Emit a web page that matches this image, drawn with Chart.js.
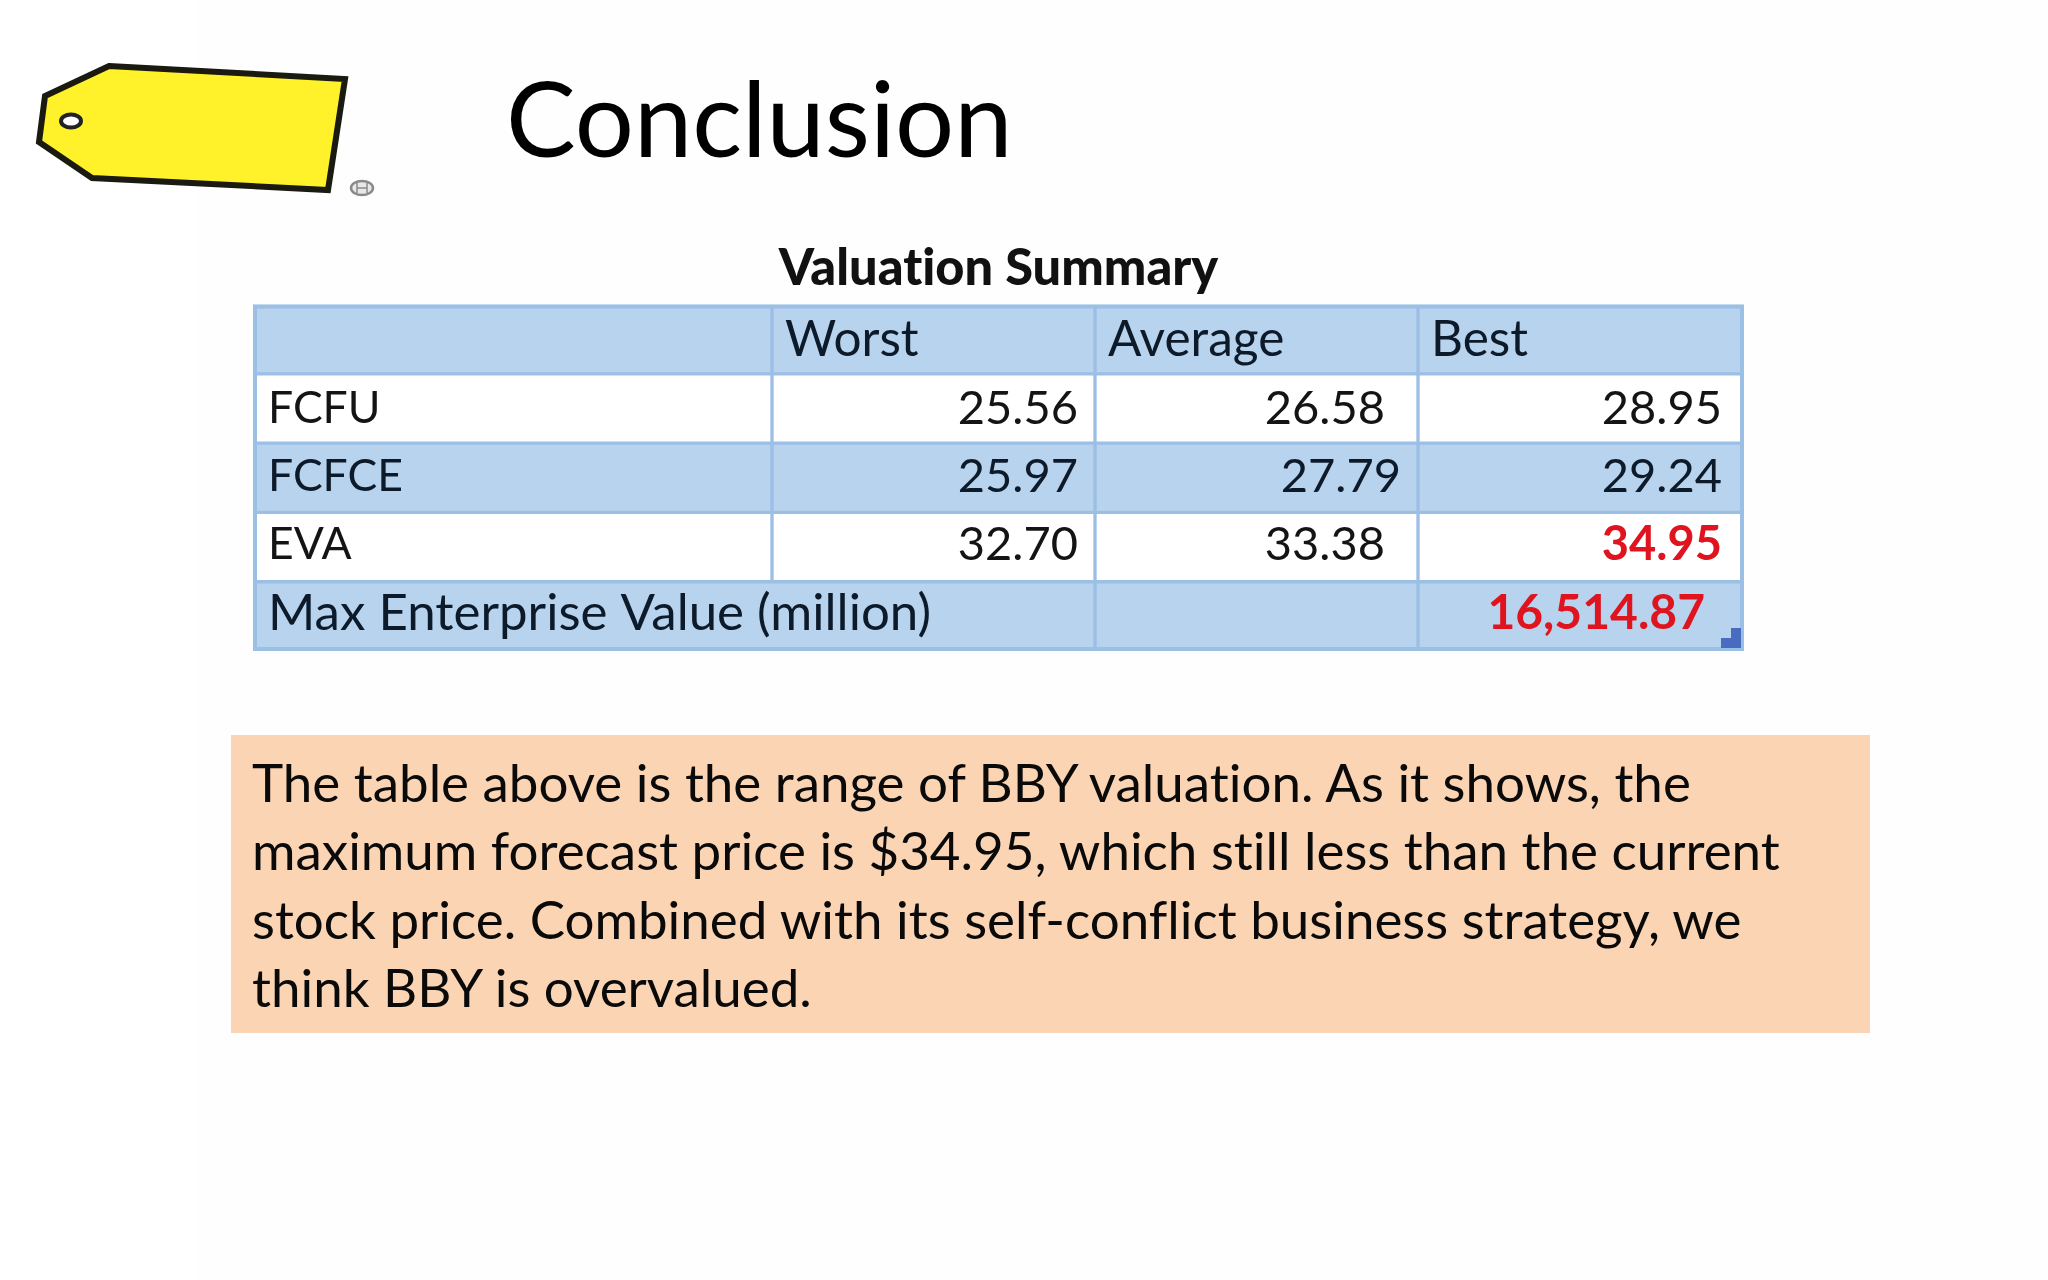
<!DOCTYPE html>
<html>
<head>
<meta charset="utf-8">
<title>Conclusion</title>
<script src="https://cdn.jsdelivr.net/npm/chart.js@4"></script>
<style>
  html, body { margin: 0; padding: 0; background: #ffffff; }
  #slide { position: relative; width: 2048px; height: 1280px; overflow: hidden; font-family: Lato, sans-serif; color: #000; font-variant-ligatures: none; }
  #panel { position: absolute; left: 197px; top: 0; width: 1851px; height: 1280px; background: #fefefe; }
  #tag { position: absolute; left: 0; top: 30px; }
  #heading { position: absolute; left: 506px; top: 57px; font-size: 104.4px; line-height: 120px; white-space: nowrap; }
  #note { position: absolute; left: 231px; top: 735px; width: 1639px; height: 298px; background: #fbd4b4; }
  #note p { margin: 0; padding: 13px 0 0 21px; font-size: 52.9px; line-height: 68.4px; white-space: nowrap; color: #0a0a0a; }
  #tableBox { position: absolute; left: 253px; top: 235px; width: 1491px; height: 416px; }
</style>
</head>
<body>
<div id="slide">
  <div id="panel"></div>
  <svg id="tag" width="420" height="190" viewBox="0 0 420 190">
    <polygon points="109,36 345,49 328,160 92,148 39,112 45,66" fill="#fff22a" stroke="#1a1a10" stroke-width="6" stroke-linejoin="miter"/>
    <ellipse cx="71" cy="91" rx="10" ry="6.5" fill="#ffffff" stroke="#222" stroke-width="4"/>
    <ellipse cx="362" cy="158" rx="11" ry="7" fill="#e8e8e8" stroke="#8a8a8a" stroke-width="2.5"/>
    <path d="M357 153v10M367 153v10M357 158h10" stroke="#8a8a8a" stroke-width="1.5" fill="none"/>
  </svg>
  <div id="heading">Conclusion</div>
  <div id="tableBox"><canvas id="valuationTable"></canvas></div>
  <div id="note"><p>The table above is the range of BBY valuation. As it shows, the<br>maximum forecast price is $34.95, which still less than the current<br>stock price. Combined with its self-conflict business strategy, we<br>think BBY is overvalued.</p></div>
</div>

<script>
// table content
var tableTitle = "Valuation Summary";
var columnNames = ["Worst", "Average", "Best"];
var rowNames = ["FCFU", "FCFCE", "EVA"];
var worstValues = [25.56, 25.97, 32.70];
var averageValues = [26.58, 27.79, 33.38];
var bestValues = [28.95, 29.24, 34.95];
var totalLabel = "Max Enterprise Value (million)";
var totalValue = 16514.87;

// layout, not data
var columnWidths = [519, 323, 323, 326];
var rowFill = ["#b8d3ed", "#ffffff", "#b8d3ed", "#ffffff", "#b8d3ed"];
var lineColor = "#9cbfe6";
var inkColor = "#0c1a2a";
var redColor = "#e0141f";
var headerFont = "49.5px Lato, sans-serif";
var rowFont = "44.5px Lato, sans-serif";
var numberFont = "47px Lato, sans-serif";
var totalFont = "51px Lato, sans-serif";
var boldFont = "bold 47px Lato, sans-serif";
var textShift = [1, 0, -1, -2, -3];

var rowKeys = ["head"].concat(rowNames, ["total"]);
var lastRow = rowKeys.length - 1;

function columnData(col)
{
  return rowKeys.map(function (key, row) {
    if (row == lastRow && col == 0) return columnWidths[0] + columnWidths[1];
    if (row == lastRow && col == 1) return 0;
    return columnWidths[col];
  });
}

var cellText = {
  id: "cellText",
  beforeDraw: function (chart) {
    // no ti ligature in the title and cells
    chart.ctx.letterSpacing = "0.01px";
  },
  afterDatasetsDraw: function (chart) {
    var ctx = chart.ctx;
    ctx.save();
    ctx.textBaseline = "middle";

    function put(text, col, row, align, inset, font, color)
    {
      var bar = chart.getDatasetMeta(col).data[row];
      ctx.font = font;
      ctx.fillStyle = color;
      ctx.textAlign = align;
      ctx.fillText(text, align == "left" ? bar.base + inset : bar.x - inset, bar.y + textShift[row]);
    }

    // header row
    columnNames.forEach(function (name, i) {
      put(name, i + 1, 0, "left", 13, headerFont, inkColor);
    });

    // body rows
    var columns = [worstValues, averageValues, bestValues];
    var insets = [[17, 17, 17], [33, 17, 33], [22, 22, 22]];
    rowNames.forEach(function (name, r) {
      var dark = r % 2 == 1;
      put(name, 0, r + 1, "left", 15, rowFont, dark ? inkColor : "#141414");
      columns.forEach(function (values, c) {
        var isMax = values[r] == Math.max.apply(null, bestValues);
        put(values[r].toFixed(2), c + 1, r + 1, "right", insets[c][r],
          isMax ? boldFont : numberFont, isMax ? redColor : (dark ? inkColor : "#141414"));
      });
    });

    // total row
    put(totalLabel, 0, lastRow, "left", 15, totalFont, inkColor);
    put(totalValue.toLocaleString("en-US", { minimumFractionDigits: 2 }), 3, lastRow, "right", 39, "bold 48px Lato, sans-serif", redColor);

    // outer border of the table
    var area = chart.chartArea;
    ctx.strokeStyle = lineColor;
    ctx.lineWidth = 4;
    ctx.strokeRect(area.left + 2, area.top + 2, area.right - area.left - 4, area.bottom - area.top - 4);

    // excel resize corner
    var corner = chart.getDatasetMeta(3).data[lastRow];
    var right = corner.x - 3, bottom = corner.y + corner.height / 2 - 3;
    ctx.fillStyle = "#4a6cc0";
    ctx.fillRect(right - 20, bottom - 10, 20, 10);
    ctx.fillRect(right - 10, bottom - 20, 10, 10);
    ctx.restore();
  }
};

var datasets = columnWidths.map(function (w, col) {
  return {
    label: col == 0 ? "" : columnNames[col - 1],
    data: columnData(col),
    backgroundColor: rowFill,
    borderColor: lineColor,
    borderWidth: 2,
    borderSkipped: false,
    categoryPercentage: 1,
    barPercentage: 1
  };
});

new Chart(document.getElementById("valuationTable"), {
  type: "bar",
  data: { labels: rowKeys, datasets: datasets },
  options: {
    indexAxis: "y",
    responsive: true,
    maintainAspectRatio: false,
    animation: false,
    layout: { padding: 0 },
    plugins: {
      legend: { display: false },
      tooltip: { enabled: false },
      title: {
        display: true,
        text: tableTitle,
        color: "#111111",
        font: { family: "Lato, sans-serif", size: 50.5, weight: "900" },
        padding: { top: 3, bottom: 6 }
      }
    },
    scales: {
      x: { display: false, stacked: true, min: 0, max: 1491 },
      y: { display: false, stacked: true }
    }
  },
  plugins: [cellText]
});
</script>
</body>
</html>
